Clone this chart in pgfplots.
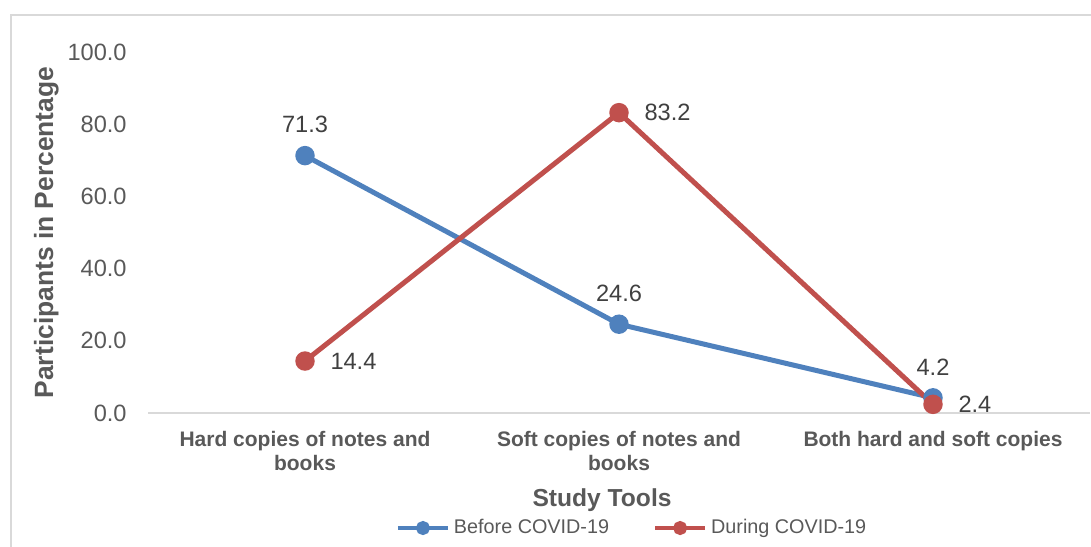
\documentclass[border=0pt]{standalone}
\usepackage{fontspec}
\setmainfont{Liberation Sans}
\usepackage{pgfplots}
\pgfplotsset{compat=1.18}

\definecolor{xlblue}{HTML}{4F81BD}
\definecolor{xlred}{HTML}{C0504D}
\definecolor{txtgray}{HTML}{595959}
\definecolor{lblgray}{HTML}{404040}
\definecolor{linegray}{HTML}{D9D9D9}

\begin{document}
\begin{tikzpicture}
  % picture frame, 1px = 0.5pt
  \useasboundingbox (0,0) rectangle (545.5pt,-273pt);
  \draw[linegray, line width=0.75pt] (5.5pt,-280pt) -- (5.5pt,-7.5pt) -- (550pt,-7.5pt);

  \begin{axis}[
    at={(74pt,-206.5pt)}, anchor=south west,
    scale only axis,
    width=471pt, height=180.5pt,
    xmin=-0.5, xmax=2.5,
    ymin=0, ymax=100,
    clip=false,
    % only a light baseline
    axis x line*=bottom,
    axis y line*=left,
    x axis line style={-, draw=linegray, line width=0.75pt},
    y axis line style={draw=none},
    major tick style={draw=none},
    /pgf/number format/assume math mode=true,
    ytick={0,20,...,100},
    yticklabel style={
      /pgf/number format/.cd, fixed, fixed zerofill, precision=1,
      /tikz/.cd, anchor=east, inner sep=0pt, xshift=-10.5pt,
      font=\fontsize{11.8}{14}\selectfont, text=txtgray},
    xtick={0,1,2},
    xticklabels={{Hard copies of notes and\\books},
                 {Soft copies of notes and\\books},
                 {Both hard and soft copies}},
    xticklabel style={anchor=north, inner sep=0pt, yshift=-9pt,
      align=center, font=\fontsize{10.5}{12}\bfseries\selectfont, text=txtgray},
    xlabel={Study Tools},
    xlabel style={at={(axis description cs:0.482,-0.2078)}, anchor=north,
      inner sep=0pt, font=\fontsize{12.3}{14}\bfseries\selectfont, text=txtgray},
    ylabel={Participants in Percentage},
    ylabel style={at={(axis description cs:-0.1008,0.5)}, anchor=base,
      inner sep=0pt, font=\fontsize{13.2}{15}\bfseries\selectfont, text=txtgray},
    % data labels
    nodes near coords={\pgfmathprintnumber[fixed,fixed zerofill,precision=1]{\pgfplotspointmeta}},
    every node near coord/.append style={inner sep=0pt,
      font=\fontsize{11.8}{14}\selectfont, text=lblgray},
    legend style={
      at={(axis description cs:0.515,-0.3186)}, anchor=center,
      draw=none, fill=none,
      legend columns=2,
      font=\fontsize{9.9}{12}\selectfont, text=txtgray,
      /tikz/every even column/.append style={column sep=20pt},
      inner sep=0pt,
    },
    legend image code/.code={
      \draw[#1, line width=2pt, mark size=2.5pt, mark repeat=2, mark phase=2]
        plot coordinates {(0pt,0pt) (12.5pt,0pt) (25pt,0pt)};
    },
  ]

  % Before COVID-19, labels above
  \addplot [xlblue, line width=2.5pt, mark=*, mark size=3.6pt,
    mark options={fill=xlblue, draw=xlblue},
    nodes near coords style={anchor=south, yshift=10pt}]
    coordinates {(0,71.3) (1,24.6) (2,4.2)};

  % During COVID-19, labels right
  \addplot [xlred, line width=2.5pt, mark=*, mark size=3.6pt,
    mark options={fill=xlred, draw=xlred},
    nodes near coords style={anchor=west, xshift=11.5pt}]
    coordinates {(0,14.4) (1,83.2) (2,2.4)};

  \legend{Before COVID-19, During COVID-19}
  \end{axis}
\end{tikzpicture}
\end{document}
